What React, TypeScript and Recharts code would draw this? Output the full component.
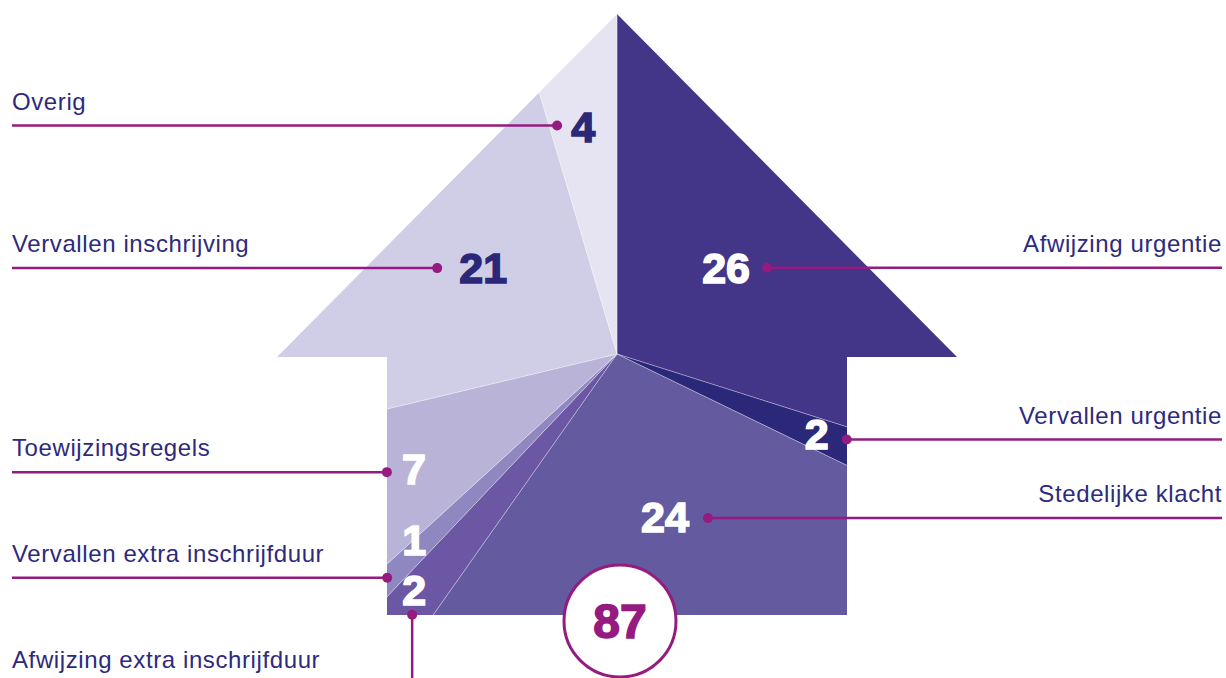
import { PieChart, Pie, Cell, Sector } from "recharts"

const categories = [
  "Afwijzing urgentie",
  "Vervallen urgentie",
  "Stedelijke klacht",
  "Afwijzing extra inschrijfduur",
  "Vervallen extra inschrijfduur",
  "Toewijzingsregels",
  "Vervallen inschrijving",
  "Overig",
]
const counts = [26, 2, 24, 2, 1, 7, 21, 4]

const sliceColors = ["#433588", "#2b2879", "#635a9f", "#6b57a4", "#8f87c0", "#b9b3d8", "#d0cee7", "#e6e4f3"]
const numberColors = ["#fff", "#fff", "#fff", "#fff", "#fff", "#fff", "#2b2879", "#2b2879"]

const W = 1226
const H = 678
const CX = 617
const CY = 354
const LEADER = "#951b81"
const TEXT = "#2d2a7d"

// house outline, relative to the pie centre
const house = { apex: -340, eave: 3, eaveHalf: 340, wallHalf: 230, bottom: 261 }
const housePoints = [
  [CX, CY + house.apex],
  [CX + house.eaveHalf, CY + house.eave],
  [CX + house.wallHalf, CY + house.eave],
  [CX + house.wallHalf, CY + house.bottom],
  [CX - house.wallHalf, CY + house.bottom],
  [CX - house.wallHalf, CY + house.eave],
  [CX - house.eaveHalf, CY + house.eave],
]
  .map((p) => p.join(","))
  .join(" ")

// where the number sits (radius, angle nudge) and where its leader dot goes
const labelLayout = [
  { r: 139, nudge: -2.1, dotDx: 41, dotDy: 0, side: "right" },
  { r: 215, nudge: 0, dotDx: 30, dotDy: 6, side: "right" },
  { r: 170, nudge: -1.9, dotDx: 43, dotDy: 1, side: "right" },
  { r: 311, nudge: 1.4, dotDx: -2, dotDy: 25, side: "down" },
  { r: 275, nudge: 2, dotDx: -27, dotDy: 38, side: "left" },
  { r: 233, nudge: -1.4, dotDx: -27, dotDy: 4, side: "left" },
  { r: 159, nudge: 2.7, dotDx: -46, dotDy: 0, side: "left" },
  { r: 230, nudge: -0.2, dotDx: -26, dotDy: -1, side: "left" },
]

const data = categories.map((name, i) => ({ name, value: counts[i] }))
const total = counts.reduce((a, b) => a + b, 0)

const NUM_SIZE = 43
const LABEL_SIZE = 24

const labelText = {
  fill: TEXT,
  fontSize: LABEL_SIZE,
  fontFamily: "Liberation Sans",
  letterSpacing: 0.6,
}

const renderLabel = (props: any) => {
  const { cx, cy, midAngle, index, value, name } = props
  const lay = labelLayout[index]
  const theta = ((90 - midAngle + lay.nudge) * Math.PI) / 180
  const nx = cx + lay.r * Math.sin(theta)
  const ny = cy - lay.r * Math.cos(theta)
  const dx = nx + lay.dotDx
  const dy = ny + lay.dotDy

  let line = null
  let text = null
  if (lay.side === "left") {
    line = <line x1={12} y1={dy} x2={dx} y2={dy} stroke={LEADER} strokeWidth={2.5} />
    text = (
      <text x={12} y={dy - 16} {...labelText}>
        {name}
      </text>
    )
  } else if (lay.side === "right") {
    line = <line x1={dx} y1={dy} x2={W - 4} y2={dy} stroke={LEADER} strokeWidth={2.5} />
    text = (
      <text x={W - 4} y={dy - 16} textAnchor="end" {...labelText}>
        {name}
      </text>
    )
  } else {
    line = <line x1={dx} y1={dy} x2={dx} y2={H} stroke={LEADER} strokeWidth={2.5} />
    text = (
      <text x={12} y={H - 10} {...labelText}>
        {name}
      </text>
    )
  }

  return (
    <g key={`lbl-${index}`}>
      {line}
      <circle cx={dx} cy={dy} r={5} fill={LEADER} />
      {text}
      <text
        x={nx}
        y={ny + NUM_SIZE * 0.358}
        textAnchor="middle"
        fill={numberColors[index]}
        stroke={numberColors[index]}
        strokeWidth={1.6}
        fontSize={NUM_SIZE}
        fontWeight="bold"
        fontFamily="Liberation Sans"
      >
        {value}
      </text>
    </g>
  )
}

const HouseSector = (props: any) => (
  <g clipPath="url(#house-clip)">
    <Sector {...props} />
  </g>
)

export default function App() {
  return (
    <div style={{ position: "absolute", left: 0, top: 0, width: W, height: H, background: "#fff" }}>
      <svg width={0} height={0} style={{ position: "absolute" }}>
        <defs>
          <clipPath id="house-clip" clipPathUnits="userSpaceOnUse">
            <polygon points={housePoints} />
          </clipPath>
        </defs>
      </svg>
      <PieChart width={W} height={H} margin={{ top: 0, right: 0, bottom: 0, left: 0 }}>
        <Pie
          data={data}
          dataKey="value"
          nameKey="name"
          cx={CX}
          cy={CY}
          innerRadius={0}
          outerRadius={430}
          startAngle={90}
          endAngle={-270}
          stroke="#ffffff"
          strokeWidth={0.6}
          strokeOpacity={0.5}
          shape={HouseSector}
          label={renderLabel}
          labelLine={false}
          isAnimationActive={false}
        >
          {data.map((d, i) => (
            <Cell key={d.name} fill={sliceColors[i]} />
          ))}
        </Pie>
      </PieChart>
      <svg width={W} height={H} style={{ position: "absolute", left: 0, top: 0, pointerEvents: "none" }}>
        <circle cx={620} cy={621} r={56} fill="#fff" stroke={LEADER} strokeWidth={3} />
        <text
          x={620}
          y={621 + 48 * 0.358}
          textAnchor="middle"
          fill={LEADER}
          stroke={LEADER}
          strokeWidth={1.6}
          fontSize={48}
          fontWeight="bold"
          fontFamily="Liberation Sans"
        >
          {total}
        </text>
      </svg>
    </div>
  )
}
